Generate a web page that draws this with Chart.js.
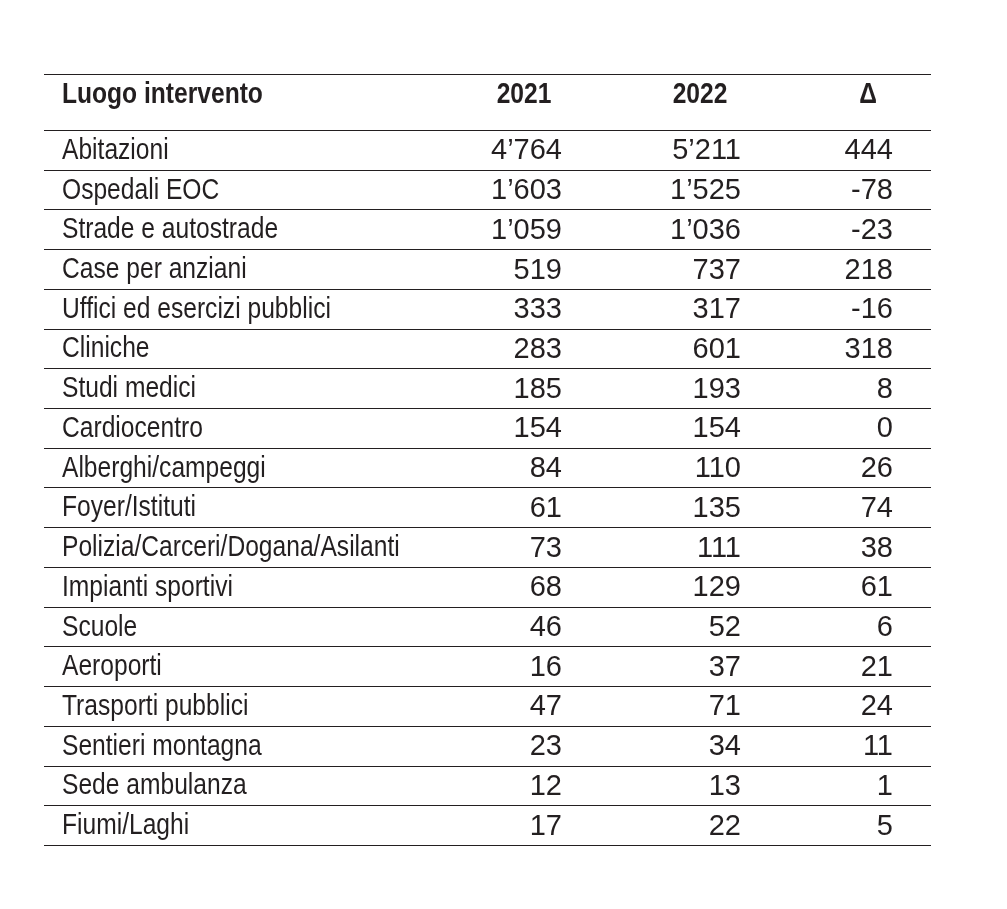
<!DOCTYPE html>
<html>
<head>
<meta charset="utf-8">
<script src="https://cdn.jsdelivr.net/npm/chart.js@4/dist/chart.umd.min.js"></script>
<style>
  html, body { margin: 0; padding: 0; background: #fff; }
  #wrap { width: 1007px; height: 909px; }
</style>
</head>
<body>
<div id="wrap"><canvas id="tableChart" width="1007" height="909"></canvas></div>
<script>
// table data
const headers = ['Luogo intervento', '2021', '2022', '\u0394'];
const places = [
    'Abitazioni', 'Ospedali EOC', 'Strade e autostrade', 'Case per anziani',
    'Uffici ed esercizi pubblici', 'Cliniche', 'Studi medici', 'Cardiocentro',
    'Alberghi/campeggi', 'Foyer/Istituti', 'Polizia/Carceri/Dogana/Asilanti',
    'Impianti sportivi', 'Scuole', 'Aeroporti', 'Trasporti pubblici',
    'Sentieri montagna', 'Sede ambulanza', 'Fiumi/Laghi'
];
const values2021 = [4764, 1603, 1059, 519, 333, 283, 185, 154, 84, 61, 73, 68, 46, 16, 47, 23, 12, 17];
const values2022 = [5211, 1525, 1036, 737, 317, 601, 193, 154, 110, 135, 111, 129, 52, 37, 71, 34, 13, 22];
const deltas = [444, -78, -23, 218, -16, 318, 8, 0, 26, 74, 38, 61, 6, 21, 24, 11, 1, 5];

function fmt(n) {
    const s = Math.abs(n).toString().replace(/\B(?=(\d{3})+(?!\d))/g, '\u2019');
    return (n < 0 ? '-' : '') + s;
}

const ink = '#231f20';
const headerHeight = 56;

// check if the narrow font is there, otherwise squeeze the normal one
function narrowAvailable(ctx) {
    ctx.font = '28px "Liberation Sans Narrow", monospace';
    const a = ctx.measureText('Polizia/Carceri').width;
    ctx.font = '28px monospace';
    const b = ctx.measureText('Polizia/Carceri').width;
    return Math.abs(a - b) > 0.5;
}

function drawNarrow(ctx, text, x, y, bold, align, hasNarrow) {
    ctx.save();
    ctx.textAlign = align;
    ctx.textBaseline = 'alphabetic';
    if (hasNarrow) {
        ctx.font = (bold ? 'bold ' : '') + '30px "Liberation Sans Narrow"';
        ctx.fillText(text, x, y);
    } else {
        ctx.font = (bold ? 'bold ' : '') + '30px "Liberation Sans"';
        ctx.translate(x, y);
        ctx.scale(0.82, 1);
        ctx.fillText(text, 0, 0);
    }
    ctx.restore();
}

const tablePlugin = {
    id: 'tableCells',
    afterDraw: (chart) => {
        const ctx = chart.ctx;
        const area = chart.chartArea;
        const yScale = chart.scales.y;
        const hasNarrow = narrowAvailable(ctx);
        const rowH = (area.bottom - area.top) / places.length;
        const left = area.left, right = area.right;
        // column anchors (right edges for numbers, centres for headings)
        const numRight = [left + 518, left + 697, left + 849];
        const headCenter = [left + 480, left + 656, left + 824];

        ctx.save();
        ctx.fillStyle = ink;
        ctx.strokeStyle = ink;
        ctx.lineWidth = 1.2;

        // horizontal rules
        const lineAt = (y) => {
            ctx.beginPath();
            ctx.moveTo(left, Math.round(y) + 0.5);
            ctx.lineTo(right, Math.round(y) + 0.5);
            ctx.stroke();
        };
        lineAt(area.top - headerHeight);
        lineAt(area.top);
        for (let i = 0; i < places.length; i++) {
            lineAt(yScale.getPixelForValue(i) + rowH / 2);
        }

        // header
        const headBase = area.top - 27;
        drawNarrow(ctx, headers[0], left + 18, headBase, true, 'left', hasNarrow);
        for (let c = 1; c < headers.length; c++) {
            drawNarrow(ctx, headers[c], headCenter[c - 1], headBase, true, 'center', hasNarrow);
        }

        // body rows
        const cols = [values2021, values2022, deltas];
        for (let i = 0; i < places.length; i++) {
            const yc = yScale.getPixelForValue(i);
            drawNarrow(ctx, places[i], left + 18, yc + 9, false, 'left', hasNarrow);
            ctx.font = '29px "Liberation Sans"';
            ctx.textAlign = 'right';
            ctx.textBaseline = 'alphabetic';
            for (let c = 0; c < cols.length; c++) {
                ctx.fillText(fmt(cols[c][i]), numRight[c], yc + 9.5);
            }
        }
        ctx.restore();
    }
};

const chart = new Chart(document.getElementById('tableChart'), {
    type: 'bar',
    data: {
        labels: places,
        datasets: [
            { label: '2021', data: values2021, backgroundColor: 'rgba(0,0,0,0)' },
            { label: '2022', data: values2022, backgroundColor: 'rgba(0,0,0,0)' }
        ]
    },
    options: {
        indexAxis: 'y',
        responsive: false,
        animation: false,
        layout: { padding: { left: 44, right: 76, top: 130, bottom: 64 } },
        plugins: {
            legend: { display: false },
            tooltip: { enabled: false }
        },
        scales: {
            x: { display: false, beginAtZero: true },
            y: { display: false, offset: true }
        }
    },
    plugins: [tablePlugin]
});
</script>
</body>
</html>
